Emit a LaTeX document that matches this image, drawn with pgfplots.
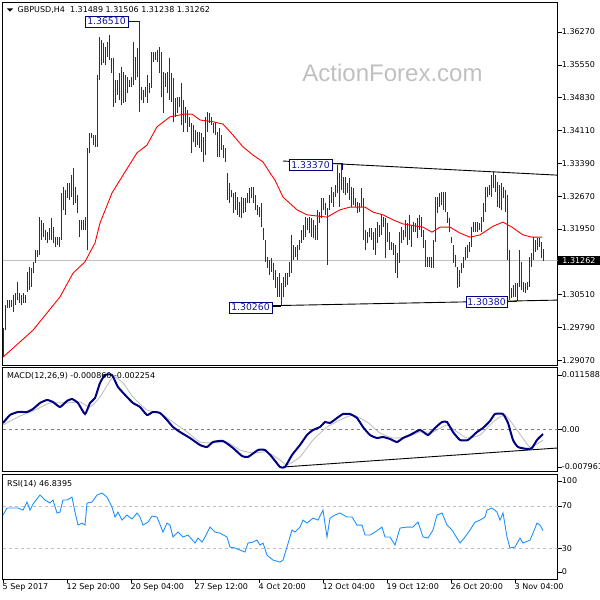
\documentclass[border=0pt]{standalone}
\usepackage{pgfplots}
\usepackage{pgfplotstable}
\pgfplotsset{compat=1.18}
\usepackage{fontspec}
\setmainfont{DejaVu Sans}
\newfontfamily\wm{Liberation Sans}
\definecolor{barcol}{RGB}{18,58,88}
\definecolor{navyc}{RGB}{0,0,128}
\definecolor{boxtxt}{RGB}{20,20,150}
\definecolor{rsic}{RGB}{30,144,255}
\definecolor{silverc}{RGB}{192,192,192}

\pgfplotstableread{
i hi lo
0 1.2978 1.2914
1 1.3028 1.2973
2 1.3039 1.3022
3 1.3039 1.3022
4 1.3039 1.3024
5 1.3050 1.3013
6 1.3055 1.3028
7 1.3079 1.3039
8 1.3055 1.3033
9 1.3050 1.3028
10 1.3055 1.3033
11 1.3050 1.3033
12 1.3101 1.3057
13 1.3112 1.3061
14 1.3109 1.3068
15 1.3123 1.3098
16 1.3149 1.3120
17 1.3149 1.3134
18 1.3221 1.3138
19 1.3215 1.3171
20 1.3208 1.3177
21 1.3193 1.3171
22 1.3188 1.3164
23 1.3197 1.3171
24 1.3219 1.3171
25 1.3199 1.3164
26 1.3177 1.3155
27 1.3177 1.3160
28 1.3177 1.3155
29 1.3274 1.3171
30 1.3287 1.3237
31 1.3280 1.3226
32 1.3296 1.3263
33 1.3296 1.3259
34 1.3313 1.3265
35 1.3329 1.3248
36 1.3287 1.3252
37 1.3269 1.3230
38 1.3215 1.3177
39 1.3215 1.3193
40 1.3215 1.3193
41 1.3221 1.3193
42 1.3373 1.3149
43 1.3405 1.3362
44 1.3405 1.3394
45 1.3401 1.3379
46 1.3401 1.3375
47 1.3533 1.3375
48 1.3616 1.3522
49 1.3609 1.3555
50 1.3603 1.3559
51 1.3594 1.3555
52 1.3605 1.3572
53 1.3620 1.3566
54 1.3570 1.3537
55 1.3570 1.3462
56 1.3522 1.3471
57 1.3522 1.3489
58 1.3537 1.3478
59 1.3550 1.3467
60 1.3539 1.3471
61 1.3533 1.3473
62 1.3528 1.3493
63 1.3522 1.3506
64 1.3528 1.3506
65 1.3605 1.3511
66 1.3572 1.3522
67 1.3592 1.3528
68 1.3651 1.3452
69 1.3506 1.3478
70 1.3500 1.3471
71 1.3506 1.3484
72 1.3533 1.3471
73 1.3515 1.3493
74 1.3583 1.3504
75 1.3583 1.3561
76 1.3583 1.3566
77 1.3587 1.3561
78 1.3594 1.3537
79 1.3583 1.3484
80 1.3539 1.3449
81 1.3537 1.3506
82 1.3539 1.3493
83 1.3570 1.3478
84 1.3537 1.3473
85 1.3526 1.3430
86 1.3482 1.3441
87 1.3484 1.3449
88 1.3484 1.3462
89 1.3515 1.3423
90 1.3478 1.3408
91 1.3462 1.3427
92 1.3456 1.3408
93 1.3441 1.3419
94 1.3427 1.3362
95 1.3423 1.3386
96 1.3412 1.3375
97 1.3408 1.3379
98 1.3408 1.3373
99 1.3405 1.3364
100 1.3397 1.3342
101 1.3441 1.3357
102 1.3452 1.3408
103 1.3449 1.3427
104 1.3441 1.3423
105 1.3427 1.3405
106 1.3427 1.3401
107 1.3408 1.3353
108 1.3416 1.3353
109 1.3401 1.3368
110 1.3379 1.3351
111 1.3373 1.3342
112 1.3318 1.3259
113 1.3296 1.3252
114 1.3280 1.3265
115 1.3274 1.3230
116 1.3276 1.3237
117 1.3265 1.3226
118 1.3254 1.3221
119 1.3265 1.3219
120 1.3263 1.3230
121 1.3263 1.3232
122 1.3274 1.3252
123 1.3285 1.3252
124 1.3287 1.3263
125 1.3287 1.3252
126 1.3269 1.3237
127 1.3248 1.3226
128 1.3243 1.3221
129 1.3252 1.3199
130 1.3197 1.3171
131 1.3171 1.3123
132 1.3134 1.3109
133 1.3127 1.3094
134 1.3131 1.3101
135 1.3120 1.3083
136 1.3105 1.3065
137 1.3090 1.3046
138 1.3098 1.3046
139 1.3076 1.3026
140 1.3090 1.3046
141 1.3098 1.3068
142 1.3098 1.3072
143 1.3123 1.3090
144 1.3182 1.3098
145 1.3160 1.3127
146 1.3155 1.3134
147 1.3160 1.3127
148 1.3171 1.3149
149 1.3193 1.3164
150 1.3204 1.3171
151 1.3221 1.3177
152 1.3219 1.3193
153 1.3221 1.3186
154 1.3219 1.3177
155 1.3215 1.3175
156 1.3204 1.3171
157 1.3237 1.3171
158 1.3232 1.3208
159 1.3263 1.3219
160 1.3263 1.3237
161 1.3252 1.3226
162 1.3241 1.3116
163 1.3269 1.3237
164 1.3287 1.3252
165 1.3276 1.3243
166 1.3291 1.3265
167 1.3335 1.3274
168 1.3318 1.3243
169 1.3337 1.3280
170 1.3309 1.3274
171 1.3309 1.3269
172 1.3296 1.3274
173 1.3307 1.3259
174 1.3287 1.3243
175 1.3285 1.3248
176 1.3263 1.3243
177 1.3254 1.3230
178 1.3252 1.3232
179 1.3285 1.3243
180 1.3263 1.3171
181 1.3193 1.3149
182 1.3188 1.3164
183 1.3197 1.3177
184 1.3197 1.3171
185 1.3188 1.3149
186 1.3197 1.3138
187 1.3210 1.3164
188 1.3204 1.3177
189 1.3226 1.3182
190 1.3221 1.3199
191 1.3219 1.3131
192 1.3208 1.3166
193 1.3188 1.3149
194 1.3166 1.3149
195 1.3164 1.3138
196 1.3160 1.3098
197 1.3142 1.3087
198 1.3188 1.3120
199 1.3199 1.3164
200 1.3193 1.3171
201 1.3215 1.3177
202 1.3208 1.3160
203 1.3226 1.3171
204 1.3204 1.3155
205 1.3210 1.3188
206 1.3208 1.3188
207 1.3219 1.3175
208 1.3226 1.3193
209 1.3221 1.3177
210 1.3193 1.3153
211 1.3171 1.3112
212 1.3134 1.3112
213 1.3134 1.3112
214 1.3134 1.3109
215 1.3171 1.3109
216 1.3265 1.3166
217 1.3265 1.3230
218 1.3274 1.3243
219 1.3276 1.3248
220 1.3276 1.3237
221 1.3276 1.3232
222 1.3232 1.3208
223 1.3219 1.3188
224 1.3177 1.3164
225 1.3160 1.3120
226 1.3138 1.3112
227 1.3112 1.3065
228 1.3105 1.3068
229 1.3120 1.3098
230 1.3134 1.3109
231 1.3155 1.3127
232 1.3160 1.3131
233 1.3166 1.3144
234 1.3199 1.3155
235 1.3210 1.3188
236 1.3210 1.3188
237 1.3210 1.3188
238 1.3208 1.3193
239 1.3221 1.3188
240 1.3252 1.3210
241 1.3287 1.3232
242 1.3287 1.3265
243 1.3291 1.3269
244 1.3313 1.3265
245 1.3320 1.3285
246 1.3313 1.3276
247 1.3298 1.3243
248 1.3291 1.3241
249 1.3296 1.3237
250 1.3287 1.3263
251 1.3280 1.3232
252 1.3269 1.3127
253 1.3149 1.3039
254 1.3065 1.3044
255 1.3072 1.3046
256 1.3076 1.3046
257 1.3076 1.3038
258 1.3149 1.3068
259 1.3123 1.3061
260 1.3079 1.3057
261 1.3076 1.3055
262 1.3079 1.3061
263 1.3134 1.3068
264 1.3142 1.3112
265 1.3177 1.3127
266 1.3171 1.3144
267 1.3175 1.3149
268 1.3175 1.3155
269 1.3166 1.3131
270 1.3151 1.3124
}\bars

\pgfplotsset{
  panel/.style={
    scale only axis, width=555pt,
    xmin=-0.15, xmax=277.35,
    axis line style={line width=0.9pt},
    tick align=outside, major tick length=4pt,
    tick style={black, line width=0.6pt},
    ytick pos=right, yticklabel pos=right,
    yticklabel style={font=\fontsize{8}{9}\selectfont, anchor=west, inner sep=0pt},
    xtick=\empty,
    scaled ticks=false,
  },
}

\begin{document}
\begin{tikzpicture}
\useasboundingbox (0pt,0pt) rectangle (600pt,600pt);

% ---------------- price panel ----------------
\begin{axis}[panel, at={(2.7pt,235pt)}, anchor=south west, height=362.3pt,
  ymin=1.28967, ymax=1.36912,
  ytick={1.29070,1.29790,1.30510,1.31950,1.32670,1.33390,1.34110,1.34830,1.35550,1.36270},
  yticklabels={1.29070,1.29790,1.30510,1.31950,1.32670,1.33390,1.34110,1.34830,1.35550,1.36270},
  extra y ticks={1.31262}, extra y tick labels={1.31262},
  extra y tick style={major tick length=0pt, yticklabel style={fill=black, text=white, inner xsep=5pt, inner ysep=1.5pt, xshift=-0.5pt, font=\fontsize{8}{9}\selectfont}},
]
\node[font=\wm\fontsize{24}{24}\selectfont, text=silverc] at (axis cs:194.75,1.3537) {ActionForex.com};
\addplot[silverc, line width=0.8pt] coordinates {(-0.15,1.31262) (277.35,1.31262)};
\addplot[mark=none, draw=none, error bars/.cd, y dir=plus, y explicit, error mark=none,
  error bar style={draw=barcol, solid, line width=1pt}]
  table[x=i, y=lo, y error expr=\thisrow{hi}-\thisrow{lo}] {\bars};
\addplot[red, line width=0.9pt] coordinates {
(0,1.2914) (15,1.2973) (28.5,1.3046) (35,1.3098) (41,1.3123) (43.5,1.3144) (46,1.3164)
(48.5,1.3208) (54.5,1.3274) (60,1.3313) (67,1.3362) (72,1.3379) (77,1.3419) (83.5,1.3441)
(91,1.3447) (94.5,1.3447) (98.5,1.3434) (105,1.3430) (110,1.3425) (115,1.3401) (120,1.3375)
(125,1.3357) (130,1.3342) (133.5,1.3318) (136,1.3302) (140,1.3265) (147,1.3237) (152,1.3226)
(162,1.3221) (168.5,1.3237) (173.5,1.3243) (181,1.3243) (185,1.3232) (190,1.3226) (195,1.3215)
(200,1.3206) (210,1.3199) (214.5,1.3188) (218.5,1.3199) (223.5,1.3199) (228.5,1.3186)
(233.5,1.3177) (238.5,1.3182) (245,1.3201) (250,1.3210) (254.5,1.3199) (260,1.3182)
(264.5,1.3177) (269.5,1.3177)};
% trend lines
\addplot[black, line width=0.9pt] coordinates {(140,1.3344) (277.35,1.3313)};
\addplot[black, line width=0.9pt] coordinates {(113.5,1.3025) (277.35,1.3039)};
% connectors
\addplot[navyc, line width=0.9pt] coordinates {(62.5,1.3651) (68,1.3651)};
\addplot[navyc, line width=0.9pt] coordinates {(164.5,1.3338) (169.5,1.3338) (169.5,1.3324)};
\addplot[black, line width=0.9pt] coordinates {(134.5,1.3026) (139,1.3026)};
\addplot[navyc, line width=0.9pt] coordinates {(252,1.3035) (257,1.3035)};
% labels
\tikzset{lbl/.style={draw=navyc, fill=white, text=boxtxt, line width=0.8pt, inner sep=0pt,
  minimum width=43pt, minimum height=11pt, font=\fontsize{9.3}{10}\selectfont}}
\node[lbl] at (axis cs:51.75,1.3650) {1.36510};
\node[lbl] at (axis cs:153.75,1.3335) {1.33370};
\node[lbl] at (axis cs:123.75,1.3023) {1.30260};
\node[lbl, minimum width=41pt] at (axis cs:241.75,1.3035) {1.30380};
\end{axis}

% ---------------- MACD panel ----------------
\begin{axis}[panel, at={(2.7pt,128.3pt)}, anchor=south west, height=104.2pt,
  ymin=-0.008967, ymax=0.013175,
  ytick={-0.007961,0,0.011588}, yticklabels={-0.007961,0.00,0.011588},
]
\addplot[gray, line width=0.7pt, dash pattern=on 3pt off 3pt] coordinates {(-0.15,0) (277.35,0)};
\addplot[black, line width=0.9pt] coordinates {(140,-0.00797) (277.35,-0.00393)};
\addplot[silverc, line width=0.9pt, smooth, tension=0.3] coordinates {
(0,0.00096) (8.5,0.00287) (15,0.00393) (23.5,0.00563) (32,0.00563) (38.5,0.00584) (43.5,0.00478)
(48.5,0.00691) (55,0.01116) (60,0.00988) (65,0.00691) (72,0.00414) (78.5,0.00351) (85,0.00159)
(92,-0.00053) (98.5,-0.00266) (105,-0.00287) (112,-0.00266) (118.5,-0.00436) (125,-0.00499)
(132,-0.00478) (138.5,-0.00648) (142,-0.00754) (148.5,-0.00584) (155,-0.00223) (162,0.00053)
(168.5,0.00202) (175,0.00308) (182,0.00159) (188.5,-0.00074) (195,-0.00181) (202,-0.00159)
(208.5,-0.00053) (215,-0.00053) (222,0.00096) (227,-0.00053) (232,-0.00181) (238.5,-0.00117)
(245,0.00159) (251,0.00308) (257,-0.00011) (263.5,-0.00372) (270,-0.00225)};
\addplot[navyc, line width=2pt, smooth, tension=0.3] coordinates {
(0,0.00138) (3.5,0.00308) (7.5,0.00372) (12,0.00372) (15,0.00436) (18.5,0.00563) (22,0.00627)
(25,0.00584) (28.5,0.00478) (32,0.00606) (34.5,0.00648) (37.5,0.00563) (41,0.00329) (43.5,0.00563)
(46,0.00669) (48.5,0.00988) (51,0.01158) (54.5,0.01158) (57.5,0.00903) (62,0.00691) (65,0.00563)
(68.5,0.00478) (72,0.00308) (75,0.00372) (78.5,0.00351) (82,0.00202) (85,0.00053) (88.5,-0.00053)
(93.5,-0.00181) (98.5,-0.00329) (102,-0.00372) (105,-0.00266) (110,-0.00244) (115,-0.00393)
(119.5,-0.00563) (122.5,-0.00584) (127.5,-0.00436) (131,-0.00436) (134.5,-0.00584) (138.5,-0.00797)
(141,-0.00797) (144.5,-0.00542) (148.5,-0.00329) (152,-0.00117) (155,-0.00011) (158.5,0.00053)
(161,0.00159) (163.5,0.00138) (167,0.00244) (170,0.00329) (173.5,0.00329) (177,0.00244)
(180,0.00053) (183.5,-0.00117) (187,-0.00181) (190,-0.00159) (193.5,-0.00202) (197,-0.00266)
(200,-0.00181) (203.5,-0.00117) (208.5,-0.00011) (212.5,-0.00117) (216,0.00032) (219.5,0.00159)
(222,0.00159) (225,-0.00053) (228.5,-0.00223) (232.5,-0.00223) (237,-0.00053) (240,0.00032)
(243.5,0.00181) (246,0.00329) (250,0.00329) (252.5,0.00138) (255,-0.00223) (257.5,-0.00372)
(262,-0.00414) (264.5,-0.00393) (267,-0.00223) (270,-0.00096)};
\end{axis}

% ---------------- RSI panel ----------------
\begin{axis}[panel, at={(2.7pt,21pt)}, anchor=south west, height=104.7pt,
  ymin=1, ymax=100,
  ytick={7.6,30,70,93.6}, yticklabels={0,30,70,100},
  xtick={0,32,64,96,128,160,192,224,256},
  xticklabels={5 Sep 2017,12 Sep 20:00,20 Sep 04:00,27 Sep 12:00,4 Oct 20:00,12 Oct 04:00,19 Oct 12:00,26 Oct 20:00,3 Nov 04:00},
  xtick pos=bottom,
  xticklabel style={font=\fontsize{8}{9}\selectfont, anchor=north west, inner sep=0pt, xshift=-0.5pt},
]
\addplot[silverc, line width=0.8pt, dash pattern=on 3pt off 3pt] coordinates {(-0.15,70) (277.35,70)};
\addplot[silverc, line width=0.8pt, dash pattern=on 3pt off 3pt] coordinates {(-0.15,30) (277.35,30)};
\addplot[rsic, line width=0.9pt] coordinates {
(0,61.5) (2,68.1) (5,68.1) (7.5,68.1) (10,66.2) (12,73.8) (13.5,66.2) (15,71.9) (18.5,80.4)
(21,75.7) (23.5,72.8) (25,75.7) (27,63.4) (28.5,64.3) (30,75.7) (32,75.7) (34.5,78.5) (36,64.3)
(37.5,52.0) (39.5,53.9) (41,52.0) (42,72.8) (44.5,73.8) (47,80.4) (49.5,82.3) (52,78.5) (54.5,69.0)
(56,59.6) (57.5,64.3) (59.5,56.7) (62,61.5) (64.5,57.7) (67,63.4) (68.5,59.6) (70,52.0) (72.5,54.8)
(74.5,60.5) (77,59.6) (80,45.4) (82,53.9) (83.5,52.0) (85,40.7) (87.5,45.4) (90,40.7) (92.5,42.6)
(96,35.0) (97.5,39.7) (99.5,35.9) (101,40.7) (103.5,50.1) (106,45.4) (108.5,44.4) (112,40.7)
(113.5,31.2) (116,30.3) (118.5,28.4) (121,26.5) (122.5,35.0) (125,35.9) (127,37.8) (128.5,33.1)
(130,35.0) (132,23.6) (135,18.9) (138.5,17.0) (140,18.9) (142,31.2) (144.5,47.3) (146,45.4)
(148.5,50.1) (150,56.7) (152,53.9) (155,58.6) (157.5,56.7) (160,66.2) (162,40.7) (163.5,58.6)
(166,61.5) (168.5,63.4) (172,59.6) (174.5,59.6) (177,52.0) (179.5,52.0) (181,42.6) (183.5,42.6)
(186,45.4) (189.5,50.1) (191,40.7) (193.5,40.7) (196,33.1) (198.5,49.2) (202,50.1) (205,50.1)
(207.5,54.8) (210,40.7) (212.5,39.7) (215,47.3) (217,61.5) (219.5,63.4) (222,52.0) (224.5,47.3)
(227,39.7) (228.5,35.0) (231,40.7) (233.5,47.3) (236,54.8) (238.5,56.7) (241,59.6) (242,66.2)
(244.5,68.1) (247,64.3) (248.5,56.7) (250,63.4) (252,40.7) (253.5,30.3) (256,31.2) (258.5,39.7)
(260,35.0) (263.5,37.8) (265,44.4) (267,53.9) (268.5,52.0) (270,46.8)};
\end{axis}

% ---------------- texts ----------------
\fill (7pt,591.5pt) -- (13pt,591.5pt) -- (10pt,588.3pt) -- cycle;
\node[anchor=west, inner sep=0pt, font=\fontsize{8}{9}\selectfont] at (17.5pt,589.5pt) {GBPUSD,H4\ \ 1.31489 1.31506 1.31238 1.31262};
\node[anchor=west, inner sep=0pt, font=\fontsize{8}{9}\selectfont] at (7pt,224pt) {MACD(12,26,9) -0.000860 -0.002254};
\node[anchor=west, inner sep=0pt, font=\fontsize{8}{9}\selectfont] at (7pt,116pt) {RSI(14) 46.8395};
\end{tikzpicture}
\end{document}
